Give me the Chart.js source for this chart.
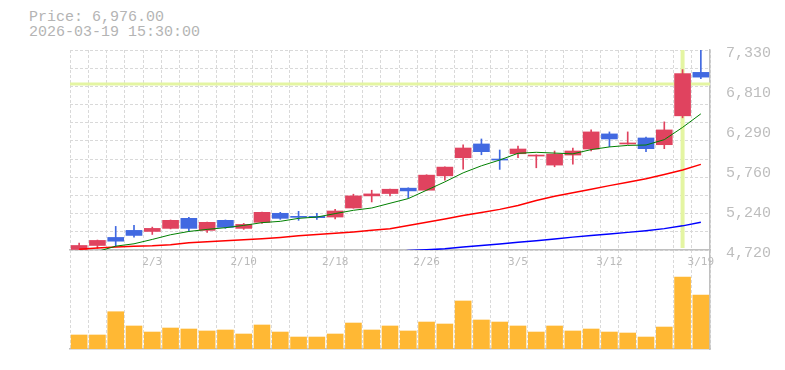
<!DOCTYPE html>
<html>
<head>
<meta charset="utf-8">
<script src="https://cdn.jsdelivr.net/npm/chart.js@4.4.1/dist/chart.umd.min.js"></script>
<style>
  body { margin: 0; background: #fff; width: 785px; height: 370px; position: relative; overflow: hidden; }
  #head { position: absolute; left: 29px; top: 10px; font: 15px/15px "Liberation Mono", monospace; color: #b4b4b4; white-space: pre; }
  #price, #volume { position: absolute; left: 0; }
  #price { top: 0; }
  #volume { top: 250px; }
</style>
</head>
<body>
<div id="head">Price: 6,976.00
2026-03-19 15:30:00</div>
<canvas id="volume" width="785" height="120"></canvas>
<canvas id="price" width="785" height="275"></canvas>
<script>
/********************************** data *****************************************/
var dates = ["1/28", "1/29", "1/30", "2/2", "2/3", "2/4", "2/5", "2/6", "2/9", "2/10",
    "2/12", "2/13", "2/16", "2/17", "2/18", "2/19", "2/20", "2/24", "2/25", "2/26",
    "2/27", "3/2", "3/3", "3/4", "3/5", "3/6", "3/9", "3/10", "3/11", "3/12",
    "3/13", "3/16", "3/17", "3/18", "3/19"];

var opens = [4727, 4779, 4884, 4976, 4962, 5002, 5133, 4976, 5107, 5002,
    5081, 5199, 5159, 5159, 5150, 5268, 5426, 5457, 5527, 5500,
    5688, 5924, 6104, 5903, 5976, 5946, 5828, 5959, 6038, 6235,
    6104, 6182, 6094, 6471, 7038];
var highs = [4809, 4850, 5028, 5041, 5019, 5112, 5146, 5085, 5112, 5067,
    5216, 5212, 5225, 5199, 5251, 5448, 5500, 5516, 5532, 5702,
    5806, 6091, 6169, 6025, 6077, 5962, 6012, 6051, 6287, 6261,
    6261, 6195, 6392, 7074, 7330];
var lows = [4707, 4743, 4766, 4888, 4923, 4995, 4962, 4950, 5002, 4989,
    5067, 5120, 5107, 5120, 5124, 5265, 5347, 5426, 5399, 5497,
    5632, 5776, 5963, 5772, 5924, 5793, 5806, 5841, 6012, 6068,
    6100, 6003, 6042, 6445, 6956];
var closes = [4779, 4845, 4835, 4910, 5002, 5107, 5002, 5081, 5015, 5054,
    5212, 5133, 5146, 5142, 5229, 5426, 5452, 5513, 5491, 5697,
    5802, 6051, 6003, 5894, 6038, 5959, 5972, 6012, 6261, 6169,
    6117, 6042, 6287, 7022, 6976];

var ma5 = [4640, 4700, 4770, 4801, 4858, 4919, 4962, 4989, 5011, 5041,
    5077, 5094, 5133, 5150, 5195, 5238, 5268, 5330, 5391, 5500,
    5609, 5727, 5819, 5894, 5982, 5995, 5985, 5975, 6030, 6065,
    6085, 6090, 6160, 6320, 6497];
var ma25 = [4730, 4745, 4760, 4768, 4775, 4790, 4814, 4828, 4841, 4855,
    4867, 4884, 4906, 4922, 4938, 4956, 4978, 4998, 5040, 5081,
    5125, 5170, 5210, 5250, 5300, 5365, 5422, 5468, 5513, 5560,
    5605, 5651, 5705, 5763, 5837];
var ma75 = [4480, 4495, 4510, 4522, 4535, 4548, 4560, 4572, 4585, 4598,
    4610, 4622, 4635, 4648, 4660, 4672, 4685, 4698, 4712, 4722,
    4735, 4758, 4779, 4799, 4820, 4842, 4865, 4888, 4910, 4930,
    4950, 4972, 4999, 5035, 5081];

var volumes = [283000, 283000, 753000, 465000, 343000, 424000, 404000, 364000, 384000, 303000,
    485000, 343000, 242000, 242000, 303000, 525000, 384000, 465000, 364000, 545000,
    505000, 970000, 586000, 545000, 465000, 343000, 465000, 364000, 404000, 343000,
    323000, 242000, 444000, 1454000, 1091000];

var priceTicks = ["4,720", "5,240", "5,760", "6,290", "6,810", "7,330"];
var priceMin = 4720, priceMax = 7330, volumeMax = 2000000;
var cursorIndex = 33, cursorPrice = 6887;

/********************************** styles *****************************************/
var upColor = "#e0435f", downColor = "#4169e1";
var gridColor = "#d9d9d9", axisColor = "#c0c0c0";
var candleColors = closes.map(function (c, i) { return c >= opens[i] ? upColor : downColor; });

var crosshair = {
    id: "crosshair",
    beforeDatasetsDraw: function (chart) {
        var ctx = chart.ctx, a = chart.chartArea;
        var x = chart.scales.x.getPixelForValue(cursorIndex);
        var y = chart.scales.y.getPixelForValue(cursorPrice);
        ctx.save();
        ctx.strokeStyle = "#e4f5a2";
        ctx.lineWidth = 3;
        ctx.beginPath(); ctx.moveTo(a.left, y); ctx.lineTo(a.right, y); ctx.stroke();
        ctx.lineWidth = 4;
        ctx.beginPath(); ctx.moveTo(x, a.top); ctx.lineTo(x, a.bottom - 2); ctx.stroke();
        ctx.restore();
    }
};

/********************************** price chart *****************************************/
new Chart($("price"), {
    type: "bar",
    data: {
        labels: dates,
        datasets: [
            { type: "line", data: ma5, borderColor: "#008000", borderWidth: 1, pointRadius: 0, yAxisID: "y", order: 1 },
            { type: "line", data: ma25, borderColor: "#ff0000", borderWidth: 1.5, pointRadius: 0, yAxisID: "y", order: 1 },
            { type: "line", data: ma75, borderColor: "#0000ff", borderWidth: 1.5, pointRadius: 0, yAxisID: "y", order: 1 },
            {
                data: opens.map(function (o, i) { return [o, closes[i]]; }),
                backgroundColor: candleColors, barThickness: 16, minBarLength: 1,
                grouped: false, yAxisID: "y", order: 2
            },
            {
                data: lows.map(function (l, i) { return [l, highs[i]]; }),
                backgroundColor: candleColors, barThickness: 1,
                grouped: false, yAxisID: "y", order: 3
            }
        ]
    },
    options: {
        responsive: false,
        animation: false,
        devicePixelRatio: 1,
        layout: { padding: { left: 70, top: 50, right: 0, bottom: 0 } },
        plugins: { legend: { display: false }, tooltip: { enabled: false } },
        scales: {
            x: {
                offset: true,
                grid: { offset: true, color: gridColor, drawTicks: false },
                border: { color: axisColor, width: 1.5, dash: [3, 2] },
                ticks: {
                    autoSkip: false, maxRotation: 0, padding: 6, color: "#bbbbbb",
                    font: { family: "DejaVu Sans Mono", size: 11 },
                    callback: function (v, i) { return i % 5 === 4 ? dates[i] : ""; }
                },
                afterFit: function (s) { s.height = 25; }
            },
            yGrid: {
                type: "linear", position: "left", min: priceMin, max: priceMax,
                grid: { color: gridColor, drawTicks: false },
                border: { display: false, dash: [3, 2] },
                ticks: { display: false },
                afterBuildTicks: function (s) {
                    var t = [];
                    for (var i = 0; i <= 11; i++) t.push({ value: priceMin + i * (priceMax - priceMin) / 11 });
                    s.ticks = t;
                },
                afterFit: function (s) { s.width = 0; }
            },
            y: {
                type: "linear", position: "right", min: priceMin, max: priceMax,
                grid: { display: false },
                border: { display: true, color: axisColor, width: 1.5 },
                ticks: {
                    padding: 8, labelOffset: 3, color: "#bdbdbd",
                    font: { family: "Liberation Mono", size: 15 },
                    callback: function (v, i) { return priceTicks[i]; }
                },
                afterBuildTicks: function (s) {
                    s.ticks = priceTicks.map(function (t, i) {
                        return { value: priceMin + i * (priceMax - priceMin) / (priceTicks.length - 1) };
                    });
                },
                afterFit: function (s) { s.width = 75; }
            }
        }
    },
    plugins: [crosshair]
});

/********************************** volume chart *****************************************/
new Chart($("volume"), {
    type: "bar",
    data: {
        labels: dates,
        datasets: [{ data: volumes, backgroundColor: "#ffb834", barThickness: 16 }]
    },
    options: {
        responsive: false,
        animation: false,
        devicePixelRatio: 1,
        layout: { padding: { left: 70, top: 0, right: 0, bottom: 0 } },
        plugins: { legend: { display: false }, tooltip: { enabled: false } },
        scales: {
            x: {
                offset: true,
                grid: { offset: true, color: gridColor, drawTicks: false },
                border: { color: axisColor, width: 1.5, dash: [3, 2] },
                ticks: { display: false },
                afterFit: function (s) { s.height = 21; }
            },
            y: {
                position: "right", min: 0, max: volumeMax,
                grid: { display: false },
                border: { display: true, color: axisColor, width: 1.5 },
                ticks: { display: false },
                afterFit: function (s) { s.width = 75; }
            }
        }
    }
});

function $(id) { return document.getElementById(id); }
</script>
</body>
</html>
